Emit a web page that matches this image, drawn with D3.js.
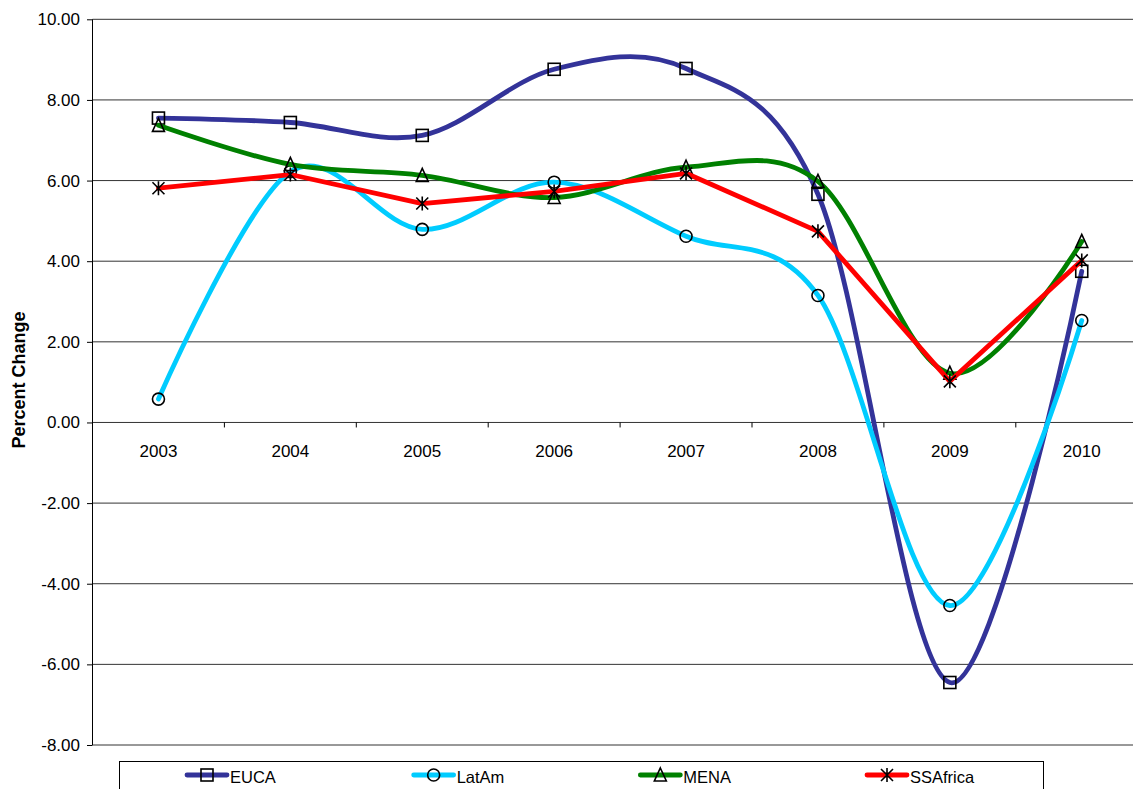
<!DOCTYPE html>
<html><head><meta charset="utf-8">
<script src="https://cdn.jsdelivr.net/npm/d3@7"></script>
<style>body{margin:0;background:#fff}svg{display:block}text{font-family:"Liberation Sans",Arial,sans-serif}</style>
</head><body>
<svg id="c" width="1133" height="789"></svg>
<script>
const years = ["2003","2004","2005","2006","2007","2008","2009","2010"];
const EUCA = [7.55, 7.44, 7.12, 8.76, 8.78, 5.66, -6.45, 3.75];
const LatAm = [0.58, 6.22, 4.79, 5.96, 4.62, 3.15, -4.54, 2.53];
const MENA = [7.37, 6.40, 6.13, 5.58, 6.33, 5.98, 1.22, 4.49];
const SSAfrica = [5.81, 6.15, 5.43, 5.73, 6.18, 4.74, 1.02, 4.02];
const yTicks = [10, 8, 6, 4, 2, 0, -2, -4, -6, -8];
const seriesNames = ["EUCA","LatAm","MENA","SSAfrica"];

const series = [
  {name:"EUCA", values:EUCA, color:"#333399", marker:"square", smooth:true},
  {name:"LatAm", values:LatAm, color:"#00CCFF", marker:"circle", smooth:true},
  {name:"MENA", values:MENA, color:"#008000", marker:"triangle", smooth:true},
  {name:"SSAfrica", values:SSAfrica, color:"#FF0000", marker:"star", smooth:false}
];

const svg = d3.select("#c");
const pLeft = 92.5, pRight = 92.5 + 8*131.9, pTop = 19.3, pBottom = 745;
const x = d3.scaleBand().domain(years).range([pLeft, pRight]);
const y = d3.scaleLinear().domain([-8, 10]).range([pBottom, pTop]);
const fmt = d => d.toFixed(2);

// gridlines
svg.append("g").selectAll("line").data(yTicks).join("line")
  .attr("x1", pLeft).attr("x2", pRight)
  .attr("y1", d => y(d)).attr("y2", d => y(d))
  .attr("stroke", "#333").attr("stroke-width", 1);

// y axis
const ya = svg.append("g").attr("transform", `translate(${pLeft},0)`)
  .call(d3.axisLeft(y).tickValues(yTicks).tickFormat(fmt).tickSize(5.5).tickPadding(7));
ya.select(".domain").attr("stroke", "#000").attr("d", `M0,${pTop}V${pBottom}`);
ya.selectAll(".tick line").attr("stroke", "#000");
ya.selectAll("text").attr("font-size", 17).attr("fill", "#000").attr("font-family", "Liberation Sans, Arial, sans-serif");

// x axis at 0
const xa = svg.append("g").attr("transform", `translate(0,${y(0)})`)
  .call(d3.axisBottom(x).tickSize(0).tickPadding(22));
xa.select(".domain").remove();
xa.selectAll("text").attr("font-size", 17).attr("fill", "#000").attr("font-family", "Liberation Sans, Arial, sans-serif");
svg.append("g").selectAll("line").data(years.slice(1)).join("line")
  .attr("x1", d => x(d)).attr("x2", d => x(d))
  .attr("y1", y(0)).attr("y2", y(0) + 5)
  .attr("stroke", "#000");

// y title
svg.append("text").attr("transform", `translate(25,380) rotate(-90)`)
  .attr("text-anchor", "middle").attr("font-size", 18).attr("font-weight", "bold")
  .text("Percent Change");

const cx = d => x(d) + x.bandwidth()/2;

function drawMarker(g, type, px, py) {
  const s = 6;
  const common = el => el.attr("fill", "none").attr("stroke", "#000").attr("stroke-width", 1.6);
  if (type === "square") common(g.append("rect").attr("x", px - s).attr("y", py - s).attr("width", 2*s).attr("height", 2*s));
  else if (type === "circle") common(g.append("circle").attr("cx", px).attr("cy", py).attr("r", s));
  else if (type === "triangle") common(g.append("path").attr("d", `M${px},${py - s - 1}L${px + s},${py + s}L${px - s},${py + s}Z`));
  else if (type === "star") common(g.append("path").attr("d", `M${px - s},${py - s}L${px + s},${py + s}M${px + s},${py - s}L${px - s},${py + s}M${px},${py - s - 1}V${py + s + 1}`));
}

series.forEach(sr => {
  const g = svg.append("g");
  const line = d3.line().x((d, i) => cx(years[i])).y(d => y(d))
    .curve(sr.smooth ? d3.curveCatmullRom.alpha(0) : d3.curveLinear);
  g.append("path").attr("d", line(sr.values)).attr("fill", "none")
    .attr("stroke", sr.color).attr("stroke-width", 4.8).attr("stroke-linejoin", "round").attr("stroke-linecap", "round");
  sr.values.forEach((v, i) => drawMarker(g, sr.marker, cx(years[i]), y(v)));
});

// legend
const lg = svg.append("g");
lg.append("rect").attr("x", 119.5).attr("y", 761.5).attr("width", 924).attr("height", 40)
  .attr("fill", "#fff").attr("stroke", "#000").attr("stroke-width", 1);
const legX = d3.scalePoint().domain(seriesNames).range([187, 867]);
series.forEach(sr => {
  const lx = legX(sr.name), ly = 775;
  lg.append("line").attr("x1", lx).attr("x2", lx + 40).attr("y1", ly).attr("y2", ly)
    .attr("stroke", sr.color).attr("stroke-width", 4.8).attr("stroke-linecap", "round");
  drawMarker(lg, sr.marker, lx + 20, ly);
  lg.append("text").attr("x", lx + 43).attr("y", 783).attr("font-size", 16.5).text(sr.name);
});
</script>
</body></html>
